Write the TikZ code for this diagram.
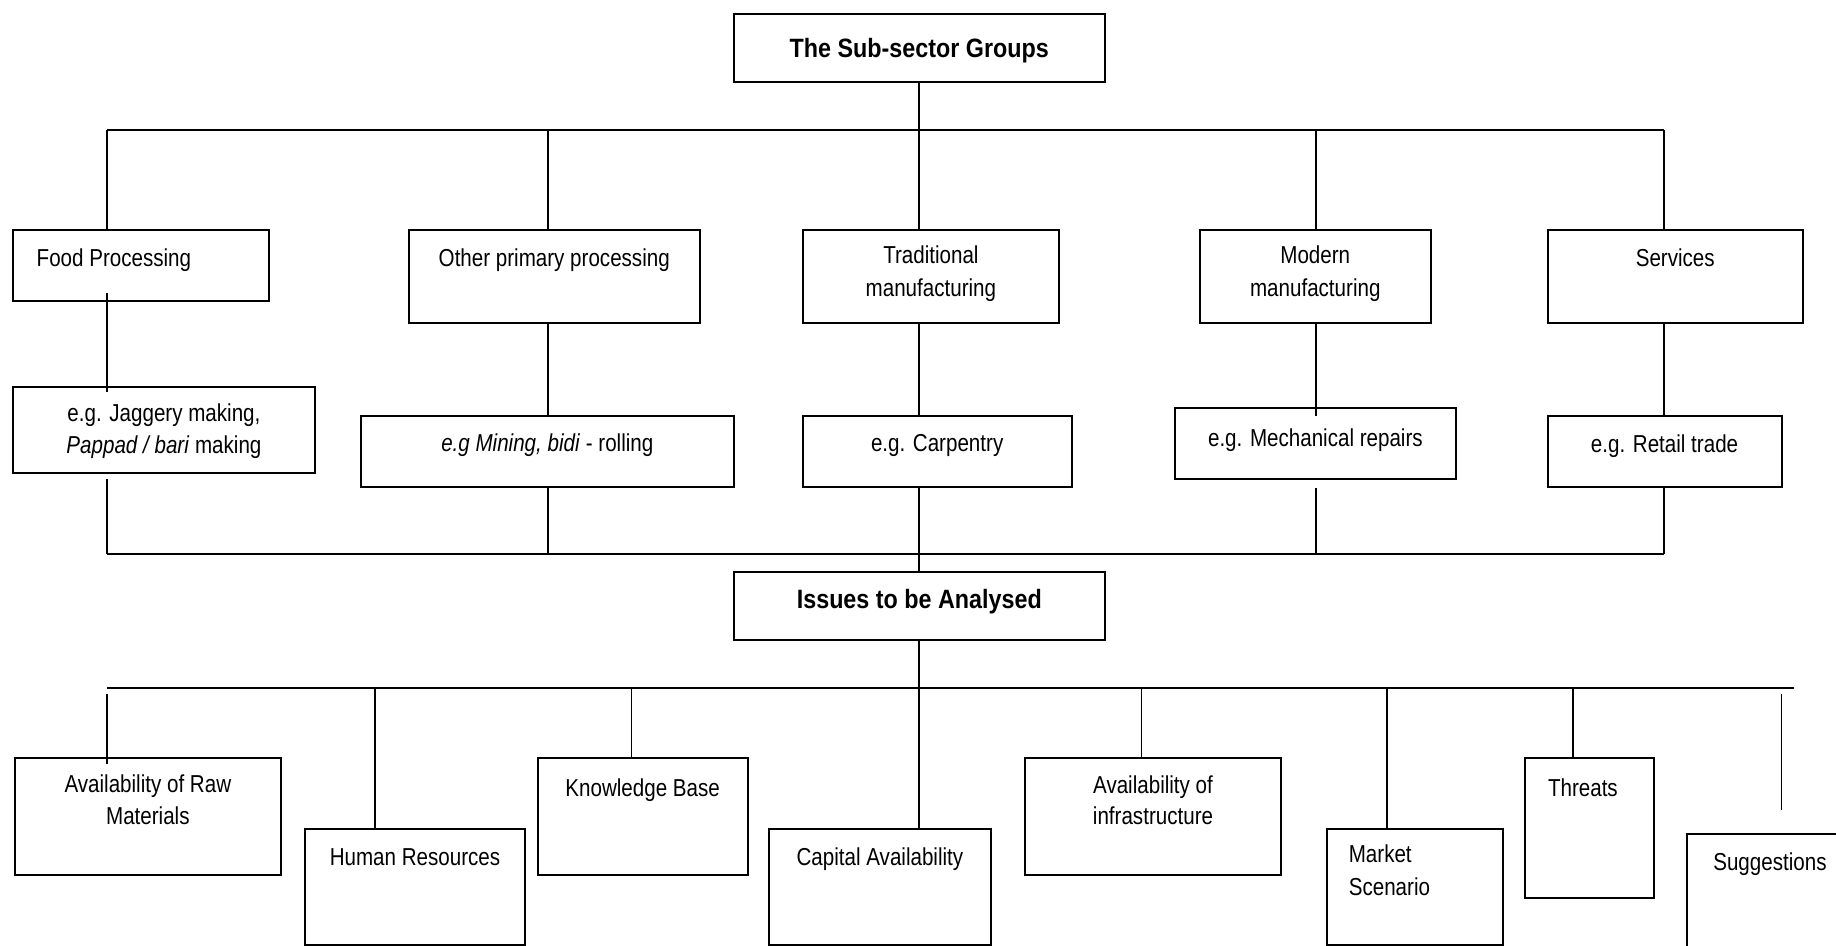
\documentclass[tikz,border=0pt]{standalone}
\usepackage{fontspec}
\setmainfont[FakeStretch=0.84]{Liberation Sans}
\newfontfamily\headfont[FakeStretch=0.88]{Liberation Sans}

% box drawn from its edges (L,T,R,B) with the first text baseline at #7
\newcommand\panel[8][]{%
  \pgfmathsetmacro\pw{(#5-#3)*0.5}%
  \pgfmathsetmacro\ph{(#7-#4)*0.5}%
  \pgfmathsetmacro\pd{(#6-#7)*0.5}%
  \node[box, minimum width=\pw pt, text height=\ph pt, text depth=\pd pt,
        anchor=base, #1] (#2) at ({(#3+#5)/2}, #7) {#8};%
}
% left-aligned text with a padding (pt)
\newcommand\lft[2]{\makebox[\pw pt][l]{\hspace*{#1pt}#2}}
% two centred lines, spacing factor #1
\newcommand\two[3]{\def\arraystretch{#1}\begin{tabular}[t]{@{}c@{}}#2\\#3\end{tabular}}

\tikzset{
  box/.style={draw, rectangle, line width=1pt, inner sep=0pt,
              font=\fontsize{12.25}{15}\selectfont},
  head/.style={font=\headfont\bfseries\fontsize{13.25}{16}\selectfont},
  wire/.style={line width=0.9pt}
}

\begin{document}
\begin{tikzpicture}[x=0.5pt, y=-0.5pt]
\useasboundingbox (0,0) rectangle (1836,946);
\fill[white] (0,0) rectangle (1836,946);
\clip (0,0) rectangle (1836,946);

% --- top level
\panel[head]{title}{733.6}{14}{1105}{82}{57.3}{The Sub-sector Groups}

% --- sub-sector groups
\panel{food}{12.9}{230}{268.8}{300.7}{266.7}{\lft{11.9}{Food Processing}}
\panel{other}{409}{230}{699.5}{322.7}{266.7}{Other primary processing}
\panel{trad}{802.8}{230}{1059}{322.7}{263.3}{\two{1.117}{Traditional}{manufacturing}}
\panel{modern}{1199.5}{230}{1431}{322.7}{263.3}{\two{1.117}{Modern}{manufacturing}}
\panel{services}{1547.5}{230}{1803}{322.7}{266.7}{Services}

% --- examples
\panel{jag}{12.9}{386.7}{315}{472.7}{421.7}{\two{1.05}{e.g. Jaggery making,}{\textit{Pappad / bari} making}}
\panel{mining}{361}{416}{733.6}{486.7}{451.7}{\textit{e.g Mining, bidi} - rolling}
\panel{carp}{802.8}{416}{1071.5}{486.7}{451.7}{e.g. Carpentry}
\panel{mech}{1174.8}{408.3}{1456}{478.7}{446.7}{e.g. Mechanical repairs}
\panel{retail}{1547.5}{416}{1781.6}{486.7}{452}{e.g. Retail trade}

% --- issues
\panel[head]{issues}{733.6}{572.3}{1105}{640.3}{608.3}{Issues to be Analysed}

\panel{raw}{14.7}{758.3}{281}{874.7}{792.7}{\two{1.045}{Availability of Raw}{Materials}}
\panel{human}{305}{828.7}{525}{945}{865}{Human Resources}
\panel{know}{537.6}{758.3}{747.7}{874.7}{796.7}{Knowledge Base}
\panel{capital}{768.8}{828.7}{991}{945}{865}{Capital Availability}
\panel{infra}{1025}{758.3}{1281}{874.7}{793}{\two{1.05}{Availability of}{infrastructure}}
\panel{market}{1326.8}{828.7}{1503.4}{945}{862.7}{\makebox[\pw pt][l]{\hspace*{11pt}\def\arraystretch{1.077}\begin{tabular}[t]{@{}l@{}}Market\\Scenario\end{tabular}}}
\panel{threats}{1525}{758.3}{1653.7}{898.3}{796.7}{\lft{11.5}{Threats}}
\panel{sugg}{1687.3}{834}{1900}{1000}{870.7}{\lft{13}{Suggestions}}

% --- upper bus
\coordinate (d1) at (107,130);
\coordinate (d2) at (548,130);
\coordinate (d3) at (919.3,130);
\coordinate (d4) at (1315.6,130);
\coordinate (d5) at (1664,130);
\draw[wire] (title.south) -- (title.south |- d1);
\draw[wire] (d1) -- (d5);
\draw[wire] (d1) -- (d1 |- food.north);
\draw[wire] (d2) -- (d2 |- other.north);
\draw[wire] (d3) -- (d3 |- trad.north);
\draw[wire] (d4) -- (d4 |- modern.north);
\draw[wire] (d5) -- (d5 |- services.north);

% --- groups to examples
\draw[wire] ([yshift=4.35pt]d1 |- food.south) -- ([yshift=-3pt]d1 |- jag.north);
\draw[wire] (d2 |- other.south) -- (d2 |- mining.north);
\draw[wire] (d3 |- trad.south) -- (d3 |- carp.north);
\draw[wire] (d4 |- modern.south) -- ([yshift=-4.2pt]d4 |- mech.north);
\draw[wire] (d5 |- services.south) -- (d5 |- retail.north);

% --- lower bus
\coordinate (m1) at (107,554);
\coordinate (m5) at (1664,554);
\draw[wire] (m1) -- (m5);
\draw[wire] ([yshift=-2.65pt]m1 |- jag.south) -- (m1);
\draw[wire] (d2 |- mining.south) -- (d2 |- m1);
\draw[wire] (d3 |- carp.south) -- (d3 |- issues.north);
\draw[wire] ([yshift=-4.3pt]d4 |- mech.south) -- (d4 |- m1);
\draw[wire] (m5 |- retail.south) -- (m5);

% --- issues bus
\coordinate (e1) at (107,688.3);
\coordinate (e2) at (375,688.3);
\coordinate (e3) at (631.5,688.3);
\coordinate (e5) at (1141.4,688.3);
\coordinate (e6) at (1387,688.3);
\coordinate (e7) at (1573.3,688.3);
\coordinate (e8) at (1781.5,688.3);
\coordinate (e9) at (1794,688.3);
\draw[wire] (e1) -- (e9);
\draw[wire] (issues.south) -- (issues.south |- capital.north);
\draw[wire] ([yshift=-3pt]e1) -- ([yshift=-3.35pt]e1 |- raw.north);
\draw[wire] (e2) -- (e2 |- human.north);
\draw[wire] (e3) -- (e3 |- know.north);
\draw[wire] (e5) -- (e5 |- infra.north);
\draw[wire] (e6) -- (e6 |- market.north);
\draw[wire] (e7) -- (e7 |- threats.north);
\draw[wire] ([yshift=-2.9pt]e8) -- ([yshift=11.5pt]e8 |- sugg.north);
\end{tikzpicture}
\end{document}
